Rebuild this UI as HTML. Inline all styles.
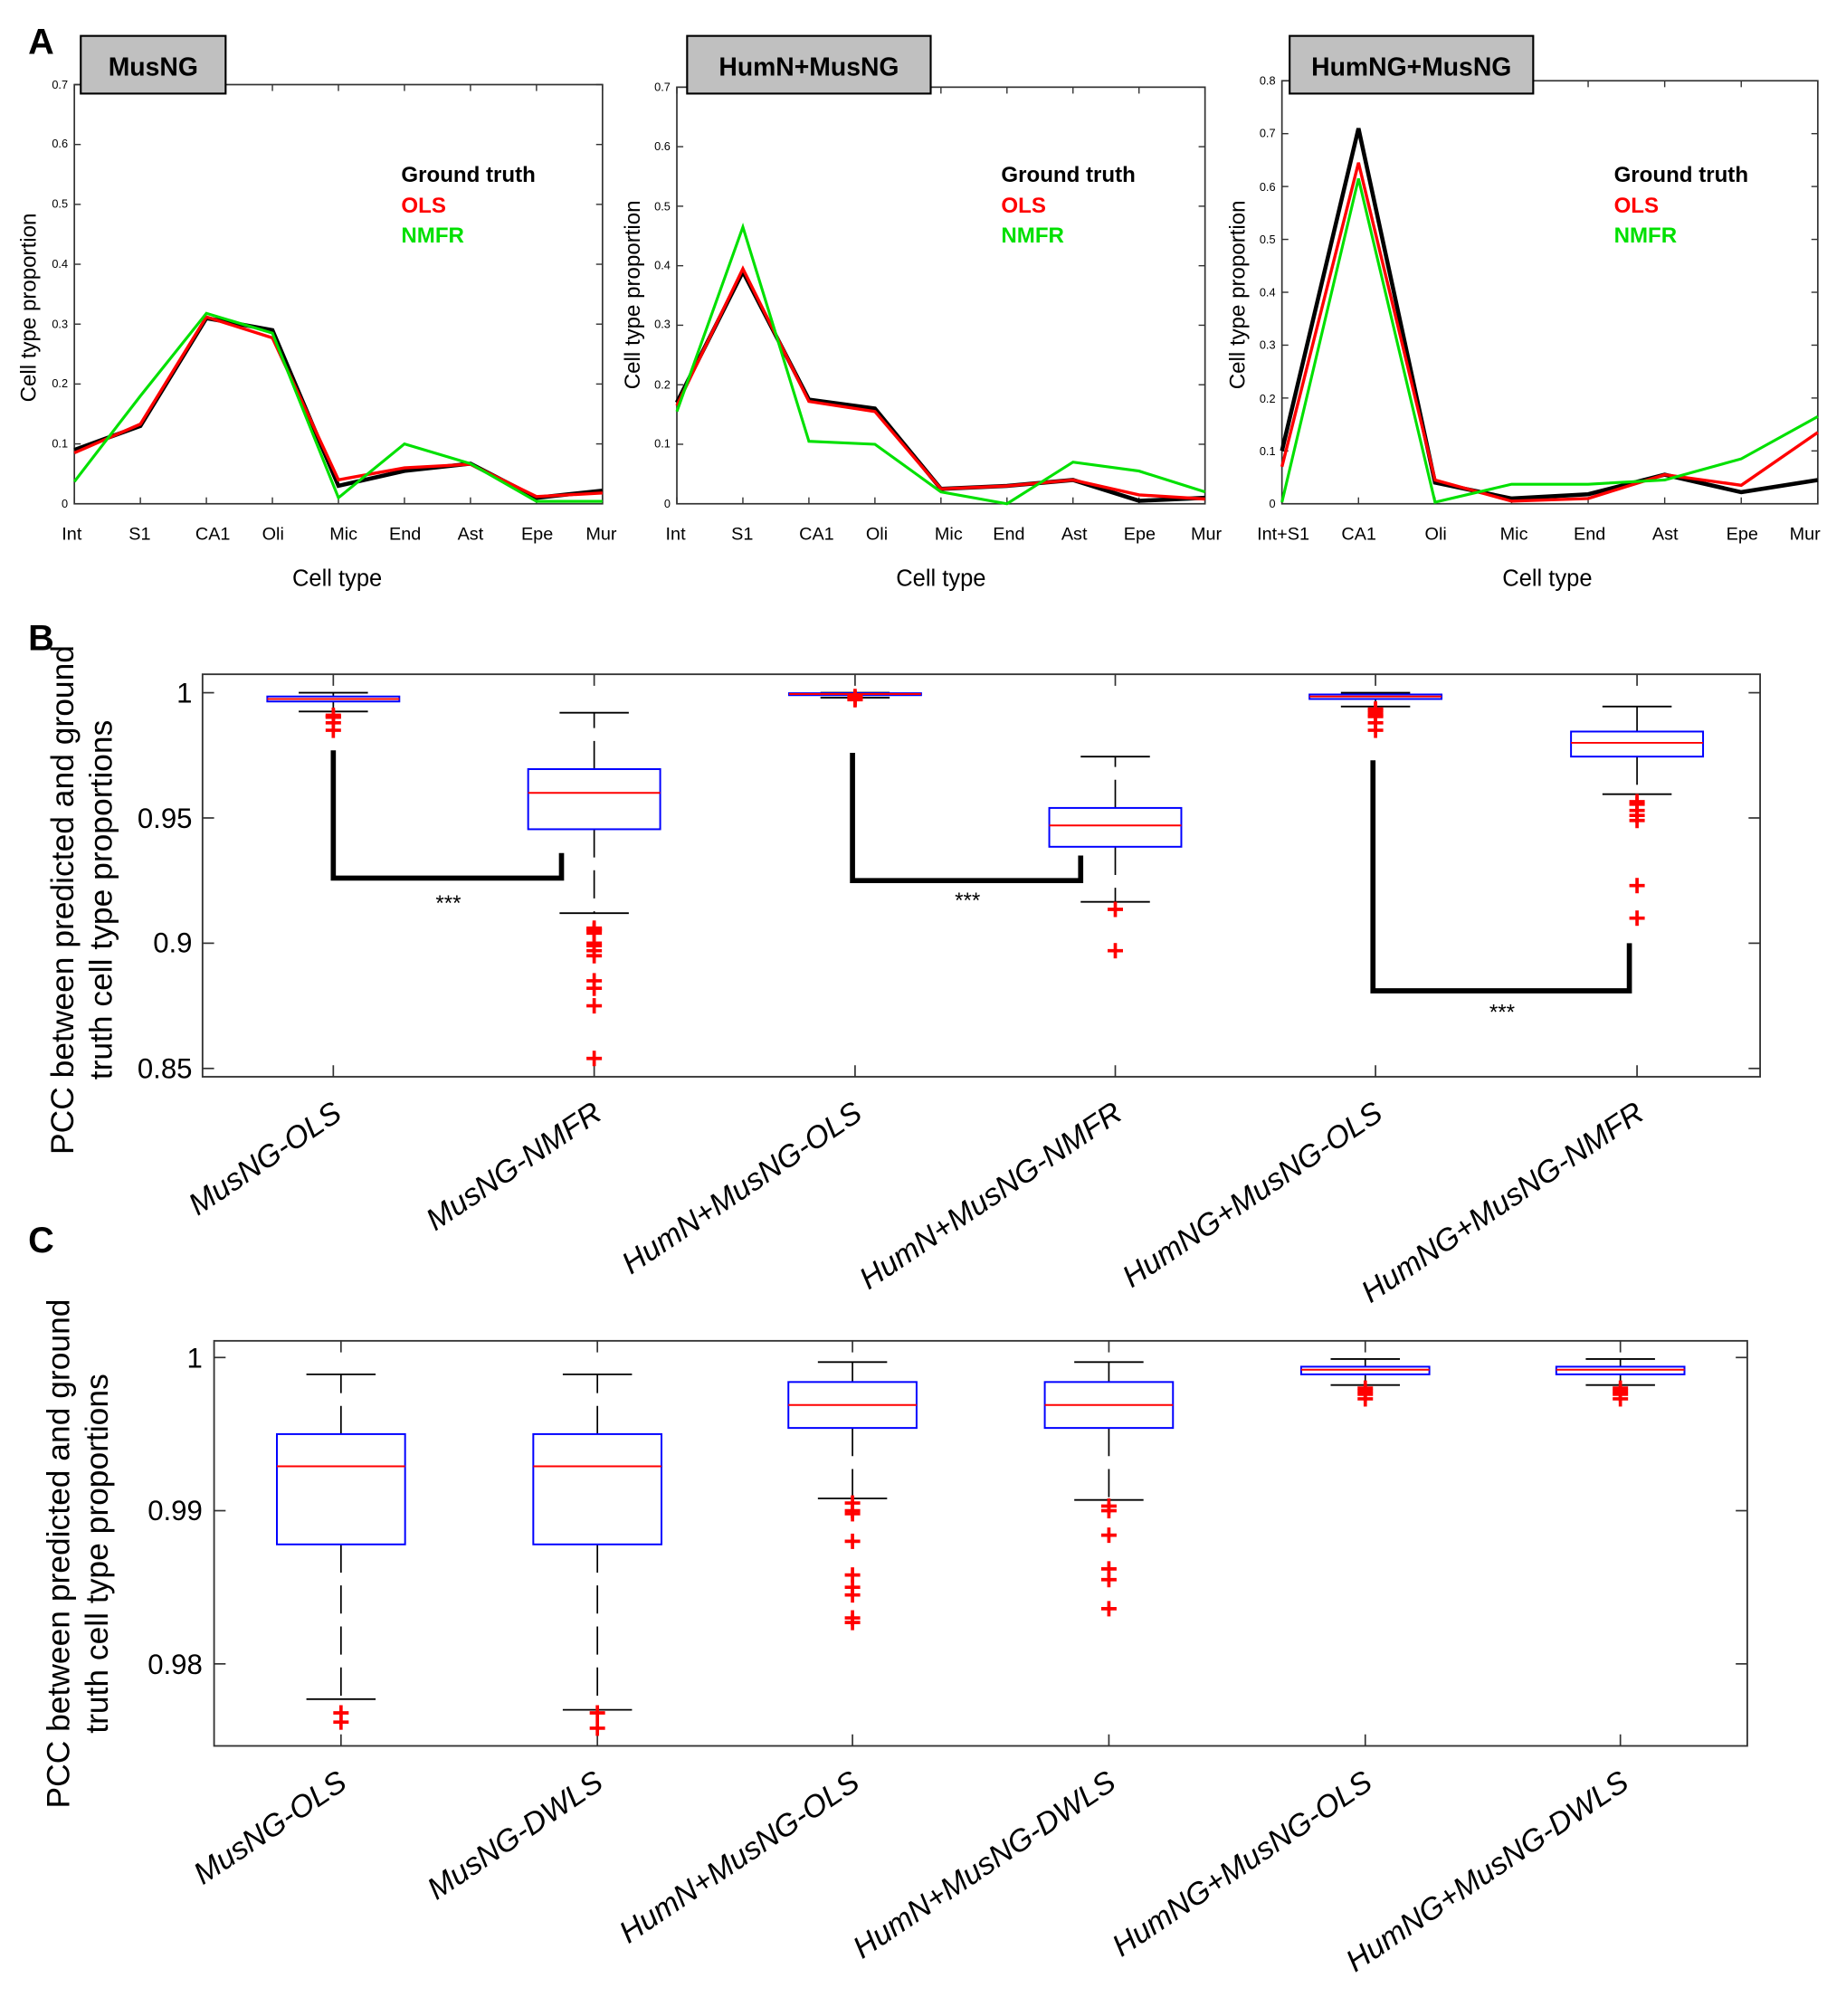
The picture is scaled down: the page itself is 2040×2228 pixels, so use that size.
<!DOCTYPE html>
<html><head><meta charset="utf-8"><style>
html,body{margin:0;padding:0;background:#fff}
svg{display:block}
text{font-family:"Liberation Sans",sans-serif}
</style></head><body>
<svg id="s" xmlns="http://www.w3.org/2000/svg" width="2040" height="2228" viewBox="0 0 1440 1572.7">
<rect width="1440" height="1573" fill="#fff"/>
<g id="g"></g>
<text x="22" y="42" font-size="28" font-weight="bold">A</text>
<text x="22" y="507" font-size="28" font-weight="bold">B</text>
<text x="22" y="977" font-size="28" font-weight="bold">C</text>
<rect x="63" y="28" width="113" height="45" fill="#c0c0c0" stroke="#000" stroke-width="1.5"/>
<text x="119.5" y="59" font-size="20" font-weight="bold" text-anchor="middle">MusNG</text>
<rect x="536" y="28" width="190" height="45" fill="#c0c0c0" stroke="#000" stroke-width="1.5"/>
<text x="631" y="59" font-size="20" font-weight="bold" text-anchor="middle">HumN+MusNG</text>
<rect x="1006" y="28" width="190" height="45" fill="#c0c0c0" stroke="#000" stroke-width="1.5"/>
<text x="1101" y="59" font-size="20" font-weight="bold" text-anchor="middle">HumNG+MusNG</text>
<g font-size="17" font-weight="bold">
<text x="313" y="142">Ground truth</text><text x="313" y="166" fill="#f00">OLS</text><text x="313" y="189" fill="#00e000">NMFR</text>
<text x="781" y="142">Ground truth</text><text x="781" y="166" fill="#f00">OLS</text><text x="781" y="189" fill="#00e000">NMFR</text>
<text x="1259" y="142">Ground truth</text><text x="1259" y="166" fill="#f00">OLS</text><text x="1259" y="189" fill="#00e000">NMFR</text>
</g>
<g font-size="9" text-anchor="end">
<text x="53" y="396">0</text><text x="53" y="349">0.1</text><text x="53" y="302">0.2</text><text x="53" y="256">0.3</text><text x="53" y="209">0.4</text><text x="53" y="162">0.5</text><text x="53" y="115">0.6</text><text x="53" y="69">0.7</text>
<text x="523" y="396">0</text><text x="523" y="349">0.1</text><text x="523" y="303">0.2</text><text x="523" y="256">0.3</text><text x="523" y="210">0.4</text><text x="523" y="164">0.5</text><text x="523" y="117">0.6</text><text x="523" y="71">0.7</text>
<text x="995" y="396">0</text><text x="995" y="355">0.1</text><text x="995" y="314">0.2</text><text x="995" y="272">0.3</text><text x="995" y="231">0.4</text><text x="995" y="190">0.5</text><text x="995" y="149">0.6</text><text x="995" y="107">0.7</text><text x="995" y="66">0.8</text>
</g>
<g font-size="14" text-anchor="middle">
<text x="56" y="421">Int</text><text x="109" y="421">S1</text><text x="166" y="421">CA1</text><text x="213" y="421">Oli</text><text x="268" y="421">Mic</text><text x="316" y="421">End</text><text x="367" y="421">Ast</text><text x="419" y="421">Epe</text><text x="469" y="421">Mur</text>
<text x="527" y="421">Int</text><text x="579" y="421">S1</text><text x="637" y="421">CA1</text><text x="684" y="421">Oli</text><text x="740" y="421">Mic</text><text x="787" y="421">End</text><text x="838" y="421">Ast</text><text x="889" y="421">Epe</text><text x="941" y="421">Mur</text>
<text x="1001" y="421">Int+S1</text><text x="1060" y="421">CA1</text><text x="1120" y="421">Oli</text><text x="1181" y="421">Mic</text><text x="1240" y="421">End</text><text x="1299" y="421">Ast</text><text x="1359" y="421">Epe</text><text x="1408" y="421">Mur</text>
</g>
<g font-size="18" text-anchor="middle">
<text x="263" y="457">Cell type</text><text x="734" y="457">Cell type</text><text x="1207" y="457">Cell type</text>
<text transform="translate(28,240) rotate(-90)" font-size="17">Cell type proportion</text>
<text transform="translate(499,230) rotate(-90)" font-size="17">Cell type proportion</text>
<text transform="translate(971,230) rotate(-90)" font-size="17">Cell type proportion</text>
</g>
<g font-size="22" text-anchor="end">
<text x="150" y="548">1</text><text x="150" y="646">0.95</text><text x="150" y="743">0.9</text><text x="150" y="841">0.85</text>
<text x="158" y="1067">1</text><text x="158" y="1186">0.99</text><text x="158" y="1306">0.98</text>
</g>
<g font-size="25" text-anchor="middle">
<text transform="translate(57,702) rotate(-90)">PCC between predicted and ground</text>
<text transform="translate(87,702) rotate(-90)">truth cell type proportions</text>
<text transform="translate(54,1212) rotate(-90)">PCC between predicted and ground</text>
<text transform="translate(84,1212) rotate(-90)">truth cell type proportions</text>
</g>
<g font-size="17" font-style="italic">
<text x="349" y="710" text-anchor="middle">***</text><text x="754" y="708" text-anchor="middle">***</text><text x="1171" y="795" text-anchor="middle">***</text>
</g>
<g font-size="24" font-style="italic" text-anchor="end">
<text transform="translate(268,872) rotate(-34)">MusNG-OLS</text>
<text transform="translate(471,872) rotate(-34)">MusNG-NMFR</text>
<text transform="translate(674,872) rotate(-34)">HumN+MusNG-OLS</text>
<text transform="translate(877,872) rotate(-34)">HumN+MusNG-NMFR</text>
<text transform="translate(1080,872) rotate(-34)">HumNG+MusNG-OLS</text>
<text transform="translate(1284,872) rotate(-34)">HumNG+MusNG-NMFR</text>
<text transform="translate(272,1394) rotate(-34)">MusNG-OLS</text>
<text transform="translate(472,1394) rotate(-34)">MusNG-DWLS</text>
<text transform="translate(672,1394) rotate(-34)">HumN+MusNG-OLS</text>
<text transform="translate(872,1394) rotate(-34)">HumN+MusNG-DWLS</text>
<text transform="translate(1072,1394) rotate(-34)">HumNG+MusNG-OLS</text>
<text transform="translate(1272,1394) rotate(-34)">HumNG+MusNG-DWLS</text>
</g>
</svg>
<script>
var g=document.getElementById('g'),NS='http://www.w3.org/2000/svg';
function el(t,a){var e=document.createElementNS(NS,t);for(var k in a)e.setAttribute(k,a[k]);g.appendChild(e);return e;}
function ln(x1,y1,x2,y2,c,w,d){var a={x1:x1,y1:y1,x2:x2,y2:y2,stroke:c||'#000','stroke-width':w||1};if(d)a['stroke-dasharray']=d;el('line',a);}
function panelA(x0,x1,top,bot,ymax,series,nt){
 var n=series[0].length,st=(x1-x0)/(n-1);
 el('rect',{x:x0,y:top,width:x1-x0,height:bot-top,fill:'none',stroke:'#333','stroke-width':1.2});
 for(var i=0;i<n;i++){var x=x0+i*st;ln(x,bot,x,bot-5,'#333');ln(x,top,x,top+5,'#333');}
 for(var j=0;j<=nt;j++){var y=bot-(bot-top)*j/nt;ln(x0,y,x0+5,y,'#333');ln(x1,y,x1-5,y,'#333');}
 var cols=['#000','#f00','#00e000'],ws=[3.2,2.4,2.2];
 series.forEach(function(s,k){var p=s.map(function(v,i){return (x0+i*st)+','+(bot-(bot-top)*v/ymax)}).join(' ');
  el('polyline',{points:p,fill:'none',stroke:cols[k],'stroke-width':ws[k]});});
}
panelA(58,470,66,393,.7,[[.09,.13,.31,.29,.03,.055,.067,.01,.022],[.085,.133,.312,.277,.04,.06,.066,.012,.018],[.037,.18,.318,.285,.01,.1,.067,.004,.004]],7);
panelA(528,940,68,393,.7,[[.17,.39,.175,.16,.025,.03,.04,.005,.01],[.165,.395,.172,.155,.025,.03,.04,.015,.008],[.155,.465,.105,.1,.02,0,.07,.055,.02]],7);
panelA(1000,1418,63,393,.8,[[.1,.71,.04,.01,.018,.055,.022,.045],[.07,.645,.045,.005,.01,.055,.035,.135],[.003,.615,.003,.037,.037,.045,.085,.165]],8);
function boxes(X0,X1,T,B,yf,xs,ticks,data,bw,dash){
 el('rect',{x:X0,y:T,width:X1-X0,height:B-T,fill:'none',stroke:'#333','stroke-width':1.3});
 xs.forEach(function(x){ln(x,B,x,B-9,'#333',1.2);ln(x,T,x,T+9,'#333',1.2);});
 ticks.forEach(function(v){var y=yf(v);ln(X0,y,X0+9,y,'#333',1.2);ln(X1,y,X1-9,y,'#333',1.2);});
 data.forEach(function(d,i){var x=xs[i],q1=yf(d[0]),q3=yf(d[1]),m=yf(d[2]),wl=yf(d[3]),wh=yf(d[4]);
  ln(x,q3,x,wh,'#000',1.2,dash);ln(x,q1,x,wl,'#000',1.2,dash);
  ln(x-27,wh,x+27,wh,'#000',1.3);ln(x-27,wl,x+27,wl,'#000',1.3);
  el('rect',{x:x-bw/2,y:q3,width:bw,height:Math.max(q1-q3,1.5),fill:'none',stroke:'#00f','stroke-width':1.4});
  ln(x-bw/2,m,x+bw/2,m,'#f00',1.4);
  d[5].forEach(function(v){var y=yf(v);ln(x-6,y,x+6,y,'#f00',2.6);ln(x,y-6,x,y+6,'#f00',2.6);});
 });
}
var yB=function(v){return 540.4+(1-v)*1954;};
boxes(158,1373,526,840,yB,[260,463.5,667,870,1073,1277],[1,.95,.9,.85],[
 [.9965,.9985,.9975,.9925,1.0,[.991,.9905,.9902,.988,.985]],
 [.9455,.9695,.96,.912,.992,[.906,.9055,.905,.904,.90,.899,.897,.895,.885,.882,.875,.854]],
 [.9993,.9998,.9995,.998,1.0,[.9985,.998,.9975,.9972]],
 [.9385,.954,.947,.9165,.9745,[.9135,.897]],
 [.9975,.9993,.9985,.9945,1.0,[.9935,.993,.992,.991,.9905,.988,.985]],
 [.9745,.9845,.98,.9595,.9945,[.9565,.9555,.953,.951,.949,.923,.910]]
],103,'22,10');
function br(x1,y1,y2,x2,y3){el('polyline',{points:x1+','+yB(y1)+' '+x1+','+yB(y2)+' '+x2+','+yB(y2)+' '+x2+','+yB(y3),fill:'none',stroke:'#000','stroke-width':4});}
br(260,.977,.926,438,.936);br(665,.976,.925,843,.935);br(1071,.973,.881,1271,.9);
var yC=function(v){return 1059+(1-v)*11950;};
boxes(167,1363,1046,1362,yC,[266,466,665,865,1065,1264],[1,.99,.98],[
 [.9878,.995,.9929,.9777,.9989,[.9768,.9762]],
 [.9878,.995,.9929,.977,.9989,[.9768,.9758]],
 [.9954,.9984,.9969,.9908,.9997,[.9905,.990,.9898,.988,.9858,.985,.9845,.983,.9827]],
 [.9954,.9984,.9969,.9907,.9997,[.9903,.990,.9884,.9862,.9855,.9836]],
 [.9989,.9994,.9992,.9982,.9999,[.998,.9978,.9976,.9973]],
 [.9989,.9994,.9992,.9982,.9999,[.998,.9978,.9976,.9973]]
],100,'22,10');
</script>
</body></html>
